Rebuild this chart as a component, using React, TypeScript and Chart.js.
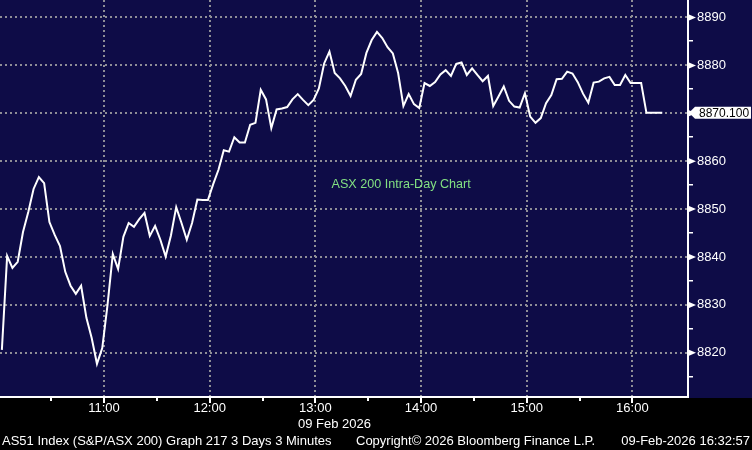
import React, { useEffect, useRef } from 'react';
import { Chart, registerables } from 'chart.js';

Chart.register(...registerables);

// Minutes after 10:00 of the first 3-minute bar, and bar interval
const firstBarMinute = 2;
const barIntervalMinutes = 3;

// AS51 intraday close values (3-minute bars)
const prices = [
  8820.6, 8840.2, 8837.7, 8839.0, 8845.2, 8849.4, 8854.2, 8856.7, 8855.4, 8847.3,
  8844.6, 8842.3, 8836.9, 8834.0, 8832.3, 8834.0, 8827.3, 8823.1, 8817.7, 8821.0,
  8830.0, 8840.6, 8837.5, 8844.2, 8847.1, 8846.3, 8847.9, 8849.2, 8844.4, 8846.5,
  8843.6, 8840.1, 8844.5, 8850.4, 8847.1, 8843.6, 8847.1, 8852.0, 8851.9, 8851.9,
  8855.2, 8858.2, 8862.3, 8862.0, 8865.0, 8863.9, 8863.9, 8867.6, 8868.0, 8874.9,
  8872.9, 8866.9, 8870.8, 8871.0, 8871.3, 8872.9, 8874.0, 8872.8, 8871.7, 8872.8,
  8875.2, 8880.4, 8882.9, 8878.4, 8877.3, 8875.7, 8873.6, 8877.0, 8878.2, 8882.6,
  8885.3, 8887.0, 8885.7, 8883.8, 8882.5, 8878.4, 8871.5, 8874.0, 8871.9, 8871.1,
  8876.3, 8875.7, 8876.5, 8878.1, 8879.0, 8877.8, 8880.3, 8880.6, 8878.0, 8879.4,
  8878.0, 8876.7, 8877.8, 8871.5, 8873.5, 8875.6, 8872.6, 8871.4, 8871.2, 8874.2,
  8869.3, 8868.0, 8869.0, 8872.1, 8873.8, 8877.1, 8877.2, 8878.7, 8878.3, 8876.5,
  8874.1, 8872.2, 8876.4, 8876.6, 8877.3, 8877.6, 8875.9, 8875.9, 8878.0, 8876.3,
  8876.3, 8876.3, 8870.1, 8870.1, 8870.1, 8870.1,
];

// X axis (minutes after 10:00)
const hourTicks = [60, 120, 180, 240, 300, 360];
const hourLabels = ['11:00', '12:00', '13:00', '14:00', '15:00', '16:00'];
const halfHourTicks = [30, 90, 150, 210, 270, 330];
const xMin = 0.94;
const xMax = 391.6;

// Y axis
const yTicks = [8820, 8830, 8840, 8850, 8860, 8870, 8880, 8890];
const yMinorTicks = [8815, 8825, 8835, 8845, 8855, 8865, 8875, 8885];
const yMin = 8810.77;
const yMax = 8893.65;

const chartTitle = 'ASX 200 Intra-Day Chart';
const dateLabel = '09 Feb 2026';
const footerLeft = 'AS51 Index (S&P/ASX 200) Graph 217 3 Days 3 Minutes';
const footerMid = 'Copyright\u00A9 2026 Bloomberg Finance L.P.';
const footerRight = '09-Feb-2026 16:32:57';

const NAVY = '#0e0c47';
const FONT = '"Liberation Sans", Arial, sans-serif';

const decorPlugin = {
  id: 'bbgDecor',
  beforeDraw(chart: any) {
    const { ctx, width, height, chartArea } = chart;
    ctx.save();
    ctx.fillStyle = '#000000';
    ctx.fillRect(0, 0, width, height);
    ctx.fillStyle = NAVY;
    ctx.fillRect(0, 0, width, chartArea.bottom + 1);
    ctx.restore();
  },
  afterDraw(chart: any) {
    const { ctx, chartArea } = chart;
    const xs = chart.scales.x;
    const ys = chart.scales.y;
    const right = chartArea.right;
    const bottom = chartArea.bottom;
    ctx.save();
    ctx.fillStyle = '#ffffff';
    // axis lines
    ctx.fillRect(right - 1, 0, 2, bottom + 1);
    ctx.fillRect(0, bottom - 1, right + 1, 2);
    // x tick marks
    hourTicks.forEach((v) => {
      const px = Math.round(xs.getPixelForValue(v));
      ctx.fillRect(px - 1, bottom, 2, 6);
    });
    halfHourTicks.forEach((v) => {
      const px = Math.round(xs.getPixelForValue(v));
      ctx.fillRect(px - 1, bottom, 2, 4);
    });
    // y minor ticks
    yMinorTicks.forEach((v) => {
      const py = Math.round(ys.getPixelForValue(v));
      ctx.fillRect(right, py - 1, 5, 1.5);
    });
    // y major tick triangles
    yTicks.forEach((v) => {
      const py = ys.getPixelForValue(v);
      ctx.beginPath();
      ctx.moveTo(right + 1, py - 3);
      ctx.lineTo(right + 8, py);
      ctx.lineTo(right + 1, py + 3);
      ctx.closePath();
      ctx.fill();
    });
    // last value box
    const last = prices[prices.length - 1];
    const ly = ys.getPixelForValue(last);
    ctx.beginPath();
    ctx.moveTo(right + 1, ly);
    ctx.lineTo(right + 7, ly - 6);
    ctx.lineTo(751, ly - 6);
    ctx.lineTo(751, ly + 6);
    ctx.lineTo(right + 7, ly + 6);
    ctx.closePath();
    ctx.fillStyle = '#ffffff';
    ctx.fill();
    ctx.fillStyle = '#000000';
    ctx.font = `12px ${FONT}`;
    ctx.textBaseline = 'middle';
    ctx.textAlign = 'left';
    ctx.fillText(last.toFixed(3), right + 11, ly + 0.5);

    // chart title annotation
    ctx.fillStyle = '#82e082';
    ctx.font = `12.6px ${FONT}`;
    ctx.fillText(chartTitle, 331.5, 185);

    // date under x axis
    ctx.fillStyle = '#ffffff';
    ctx.font = `13px ${FONT}`;
    ctx.textAlign = 'center';
    ctx.fillText(dateLabel, 334.5, 424.5);

    // footer
    ctx.textAlign = 'left';
    ctx.fillText(footerLeft, 2, 441);
    ctx.fillText(footerMid, 356, 441);
    ctx.textAlign = 'right';
    ctx.fillText(footerRight, 750, 441);
    ctx.restore();
  },
};

export default function App() {
  const canvasRef = useRef<HTMLCanvasElement | null>(null);

  useEffect(() => {
    if (!canvasRef.current) return;
    const points = prices.map((p, i) => ({ x: firstBarMinute + i * barIntervalMinutes, y: p }));
    const chart = new Chart(canvasRef.current, {
      type: 'line',
      data: {
        datasets: [
          {
            data: points,
            borderColor: '#ffffff',
            borderWidth: 2,
            pointRadius: 0,
            tension: 0,
            fill: false,
          },
        ],
      },
      options: {
        responsive: false,
        animation: false,
        devicePixelRatio: 1,
        layout: { padding: 0 },
        plugins: { legend: { display: false }, tooltip: { enabled: false }, title: { display: false } },
        events: [],
        scales: {
          x: {
            type: 'linear',
            position: 'bottom',
            min: xMin,
            max: xMax,
            afterBuildTicks: (s: any) => {
              s.ticks = hourTicks.map((v) => ({ value: v }));
            },
            afterFit: (s: any) => {
              s.height = 53;
              s.paddingLeft = 0;
              s.paddingRight = 0;
              s.paddingTop = 0;
              s.paddingBottom = 0;
            },
            ticks: {
              autoSkip: false,
              maxRotation: 0,
              padding: 4,
              color: '#ffffff',
              font: { family: FONT, size: 13 },
              callback: (v: any) => {
                const i = hourTicks.indexOf(Number(v));
                return i >= 0 ? hourLabels[i] : '';
              },
            },
            grid: { color: '#8e8e96', lineWidth: 2, drawTicks: false },
            border: { display: false, dash: [2, 3] },
          },
          y: {
            type: 'linear',
            position: 'right',
            min: yMin,
            max: yMax,
            afterBuildTicks: (s: any) => {
              s.ticks = yTicks.map((v) => ({ value: v }));
            },
            afterFit: (s: any) => {
              s.width = 64;
              s.paddingTop = 0;
              s.paddingBottom = 0;
              s.paddingLeft = 0;
              s.paddingRight = 0;
            },
            ticks: {
              autoSkip: false,
              padding: 9,
              color: '#ffffff',
              font: { family: FONT, size: 13 },
              callback: (v: any) => String(v),
            },
            grid: { color: '#8e8e96', lineWidth: 2, drawTicks: false },
            border: { display: false, dash: [2, 3] },
          },
        },
      },
      plugins: [decorPlugin],
    });
    return () => chart.destroy();
  }, []);

  return (
    <div style={{ position: 'fixed', left: 0, top: 0, width: 752, height: 450, background: '#000' }}>
      <canvas ref={canvasRef} width={752} height={450} style={{ display: 'block', width: 752, height: 450 }} />
    </div>
  );
}
